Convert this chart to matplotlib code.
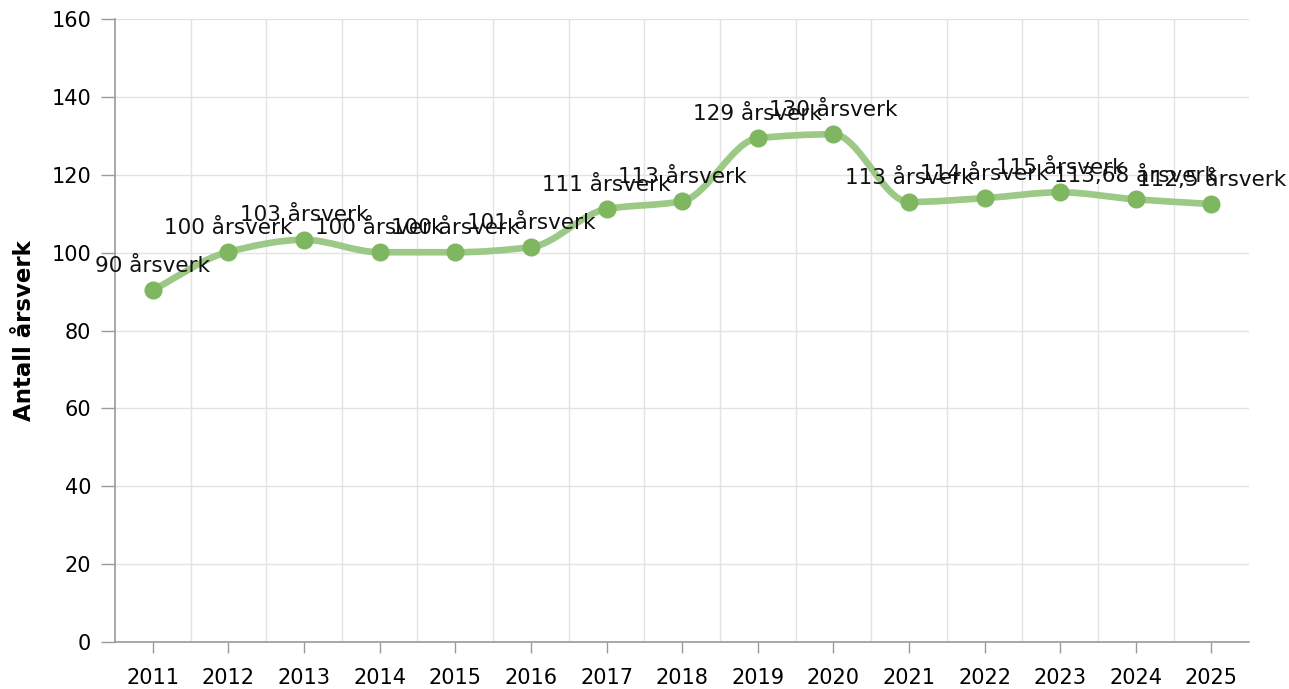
import numpy as np
import matplotlib.pyplot as plt
from matplotlib.path import Path
from matplotlib.patches import PathPatch

# -------------------------
# Data
# -------------------------
years = ['2011', '2012', '2013', '2014', '2015', '2016', '2017', '2018',
         '2019', '2020', '2021', '2022', '2023', '2024', '2025']
values = [90.4, 100.2, 103.3, 100.1, 100.1, 101.4, 111.2, 113.2,
          129.4, 130.4, 113.0, 114.0, 115.5, 113.68, 112.5]
labels = ['90 årsverk', '100 årsverk', '103 årsverk', '100 årsverk',
          '100 årsverk', '101 årsverk', '111 årsverk', '113 årsverk',
          '129 årsverk', '130 årsverk', '113 årsverk', '114 årsverk',
          '115 årsverk', '113,68 årsverk', '112,5 årsverk']
y_ticks = [0, 20, 40, 60, 80, 100, 120, 140, 160]

LINE_COLOR = '#9cc986'
DOT_COLOR = '#7fb660'
GRID_COLOR = '#e3e3e3'
AXIS_COLOR = '#9a9a9a'


def monotone_path(x, y):
    """Monotone cubic (Fritsch-Carlson) curve as Bezier path segments."""
    x = np.asarray(x, float)
    y = np.asarray(y, float)
    h = np.diff(x)
    d = np.diff(y) / h
    m = np.zeros_like(y)
    m[0], m[-1] = d[0], d[-1]
    for i in range(1, len(y) - 1):
        if d[i - 1] * d[i] <= 0:
            m[i] = 0.0
        else:
            m[i] = 2.0 / (1.0 / d[i - 1] + 1.0 / d[i])
    verts = [(x[0], y[0])]
    codes = [Path.MOVETO]
    for i in range(len(x) - 1):
        dx = h[i] / 3.0
        verts += [(x[i] + dx, y[i] + m[i] * dx),
                  (x[i + 1] - dx, y[i + 1] - m[i + 1] * dx),
                  (x[i + 1], y[i + 1])]
        codes += [Path.CURVE4] * 3
    return Path(verts, codes)


xpos = np.arange(len(years))

fig = plt.figure(figsize=(12.89, 6.89), dpi=100)
ax = fig.add_axes([0.0892, 0.0682, 0.8800, 0.9042])

ax.set_xlim(-0.5, len(years) - 0.5)
ax.set_ylim(0, 160)

# grid: vertical lines between categories, horizontal at ticks
for xb in np.arange(0.5, len(years) - 0.5, 1.0):
    ax.axvline(xb, color=GRID_COLOR, lw=1, zorder=0)
for yv in y_ticks[1:]:
    ax.axhline(yv, color=GRID_COLOR, lw=1, zorder=0)

curve = PathPatch(monotone_path(xpos, values), facecolor='none',
                  edgecolor=LINE_COLOR, lw=4.8, capstyle='round', zorder=2)
ax.add_patch(curve)
ax.plot(xpos, values, 'o', color=DOT_COLOR, markersize=12, zorder=3)

for xi, yi, lab in zip(xpos, values, labels):
    ax.annotate(lab, (xi, yi), xytext=(0, 17.5), textcoords='offset points',
                ha='center', va='center', fontsize=15.5, color='#111111', zorder=4)

ax.set_xticks(xpos)
ax.set_xticklabels(years)
ax.set_yticks(y_ticks)
ax.tick_params(axis='x', length=8, width=1, color=AXIS_COLOR, pad=11, labelsize=15)
ax.tick_params(axis='y', length=10, width=1, color=AXIS_COLOR, pad=7, labelsize=15)
ax.set_ylabel('Antall årsverk', fontsize=16.5, fontweight='bold', labelpad=11)

for side in ['top', 'right']:
    ax.spines[side].set_visible(False)
for side in ['left', 'bottom']:
    ax.spines[side].set_color(AXIS_COLOR)
    ax.spines[side].set_linewidth(1.2)

fig.savefig('out.png', dpi=100)
